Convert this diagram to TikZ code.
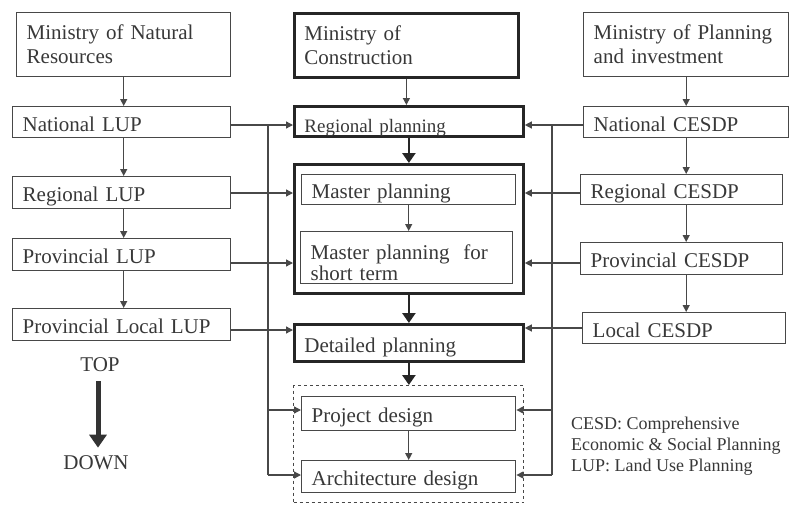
\documentclass[tikz,border=0pt]{standalone}
\usepackage{fontspec}
\setmainfont{Liberation Serif}
\usetikzlibrary{arrows.meta}
\definecolor{ink}{HTML}{383838}
\definecolor{edge}{HTML}{484848}

% block given by its corners: name, x1, y1, x2, y2, style, text
\newcommand\blk[7]{%
  \pgfmathsetmacro\blkw{#4-#2}%
  \pgfmathsetmacro\blkh{#5-#3}%
  \pgfmathsetmacro\blkt{#4-#2-20}%
  \node[#6, minimum width=\blkw pt, minimum height=\blkh pt, text width=\blkt pt,
        anchor=north west] (#1) at (#2,#3) {#7};}
% text lowered inside its block without changing the block size
\newcommand\lowered[2]{\raisebox{-#1}[\height][0pt]{#2}}

\begin{document}
\begin{tikzpicture}[x=1pt,y=-1pt,
  box/.style={draw=edge, line width=1.4pt, rectangle, inner xsep=10pt, inner ysep=0pt,
              text=ink, align=left, font=\fontsize{21}{24}\selectfont},
  heavy/.style={box, line width=2.8pt, draw=black!85},
  grpbox/.style={box, dashed, line width=1.2pt},
  conn/.style={draw=edge, line width=1.3pt},
  arr/.style={conn, -{Triangle[length=7pt,width=7pt]}},
  bigarr/.style={draw=black!85, line width=2.8pt, -{Triangle[length=10pt,width=13pt]}},
  lbl/.style={text=ink, inner sep=0pt}
]
\useasboundingbox (0,0) rectangle (790,504);

% left column: land use planning
\blk{mnr}{16}{12}{230}{76}{box}{Ministry of Natural\\Resources}
\blk{nlup}{12}{106}{230}{137}{box}{\lowered{2pt}{National LUP}}
\blk{rlup}{12}{176}{230}{208}{box}{\lowered{2pt}{Regional LUP}}
\blk{plup}{12}{238}{230}{270}{box}{\lowered{2pt}{Provincial LUP}}
\blk{pllup}{12}{308}{230}{340}{box}{\lowered{2pt}{Provincial Local LUP}}

% middle column: construction planning
\blk{moc}{293}{12}{517}{76}{heavy}{Ministry of\\Construction}
\blk{regp}{293}{105}{522}{135}{heavy, font=\fontsize{19}{22}\selectfont}{\lowered{5pt}{Regional planning}}
\blk{big}{293}{163}{522}{292}{heavy}{}
\blk{master}{301}{174}{515}{204}{box}{\lowered{2pt}{Master planning}}
\blk{mshort}{300}{231}{512}{283}{box, font=\fontsize{21}{21}\selectfont}{\lowered{5pt}{Master planning~~for}\\\lowered{5pt}{short term}}
\blk{detp}{293}{323}{522}{360}{heavy}{\lowered{2pt}{Detailed planning}}
\blk{grp}{293}{385}{523}{502}{grpbox}{}
\blk{projd}{301}{396}{515}{430}{box}{\lowered{2pt}{Project design}}
\blk{archd}{301}{460}{515}{492}{box}{\lowered{2pt}{Architecture design}}

% right column: socio-economic planning
\blk{mpi}{583}{12}{788}{76}{box}{Ministry of Planning\\and investment}
\blk{ncesdp}{583}{106}{788}{137}{box}{\lowered{2pt}{National CESDP}}
\blk{rcesdp}{580}{174}{782}{204}{box}{\lowered{2pt}{Regional CESDP}}
\blk{pcesdp}{580}{242}{782}{274}{box}{\lowered{2pt}{Provincial CESDP}}
\blk{lcesdp}{582}{312}{785}{343}{box}{\lowered{2pt}{Local CESDP}}

% vertical flows
\draw[arr] (mnr.south) -- (mnr.south |- nlup.north);
\draw[arr] (nlup.south -| mnr.south) -- (mnr.south |- rlup.north);
\draw[arr] (rlup.south -| mnr.south) -- (mnr.south |- plup.north);
\draw[arr] (plup.south -| mnr.south) -- (mnr.south |- pllup.north);

\draw[arr] (moc.south) -- (moc.south |- regp.north);
\draw[bigarr] (regp.south) -- (regp.south |- big.north);
\draw[arr] (master.south) -- (master.south |- mshort.north);
\draw[bigarr] (big.south) -- (big.south |- detp.north);
\draw[bigarr] (detp.south) -- (detp.south |- grp.north);
\draw[arr] (projd.south) -- (projd.south |- archd.north);

\draw[arr] (mpi.south) -- (mpi.south |- ncesdp.north);
\draw[arr] (ncesdp.south -| mpi.south) -- (mpi.south |- rcesdp.north);
\draw[arr] (rcesdp.south -| mpi.south) -- (mpi.south |- pcesdp.north);
\draw[arr] (pcesdp.south -| mpi.south) -- (mpi.south |- lcesdp.north);

% left bus
\coordinate (lb1) at (268,125);
\coordinate (lb2) at (268,193);
\coordinate (lb3) at (268,263);
\coordinate (lb4) at (268,330);
\coordinate (lb5) at (268,410);
\coordinate (lb6) at (268,475);
\draw[conn] (lb1) -- (lb6);
\draw[conn] (nlup.east |- lb1) -- (lb1);
\draw[conn] (rlup.east |- lb2) -- (lb2);
\draw[conn] (plup.east |- lb3) -- (lb3);
\draw[conn] (pllup.east |- lb4) -- (lb4);
\draw[arr] (lb1) -- (lb1 -| regp.west);
\draw[arr] (lb2) -- (lb2 -| big.west);
\draw[arr] (lb3) -- (lb3 -| big.west);
\draw[arr] (lb4) -- (lb4 -| detp.west);
\draw[arr] (lb5) -- (lb5 -| projd.west);
\draw[arr] (lb6) -- (lb6 -| archd.west);

% right bus
\coordinate (rb1) at (552,125);
\coordinate (rb2) at (552,193);
\coordinate (rb3) at (552,263);
\coordinate (rb4) at (552,328);
\coordinate (rb5) at (552,410);
\coordinate (rb6) at (552,475);
\draw[conn] (rb1) -- (rb6);
\draw[conn] (ncesdp.west |- rb1) -- (rb1);
\draw[conn] (rcesdp.west |- rb2) -- (rb2);
\draw[conn] (pcesdp.west |- rb3) -- (rb3);
\draw[conn] (lcesdp.west |- rb4) -- (rb4);
\draw[arr] (rb1) -- (rb1 -| regp.east);
\draw[arr] (rb2) -- (rb2 -| big.east);
\draw[arr] (rb3) -- (rb3 -| big.east);
\draw[arr] (rb4) -- (rb4 -| detp.east);
\draw[arr] (rb5) -- (rb5 -| projd.east);
\draw[arr] (rb6) -- (rb6 -| archd.east);

% direction hint
\node[lbl, font=\fontsize{21}{24}\selectfont] (top) at (100,365) {TOP};
\node[lbl, font=\fontsize{21}{24}\selectfont] (down) at (96,463) {DOWN};
\draw[draw=black!80, line width=5pt, -{Triangle[length=13pt,width=17pt]},
      shorten <=9pt, shorten >=8pt] (top.south -| 98,0) -- (down.north -| 98,0);

% legend
\node[lbl, anchor=north west, align=left, font=\fontsize{18}{21}\selectfont]
  (legend) at (571,417) {CESD: Comprehensive\\Economic \& Social Planning\\LUP: Land Use Planning};
\end{tikzpicture}
\end{document}
